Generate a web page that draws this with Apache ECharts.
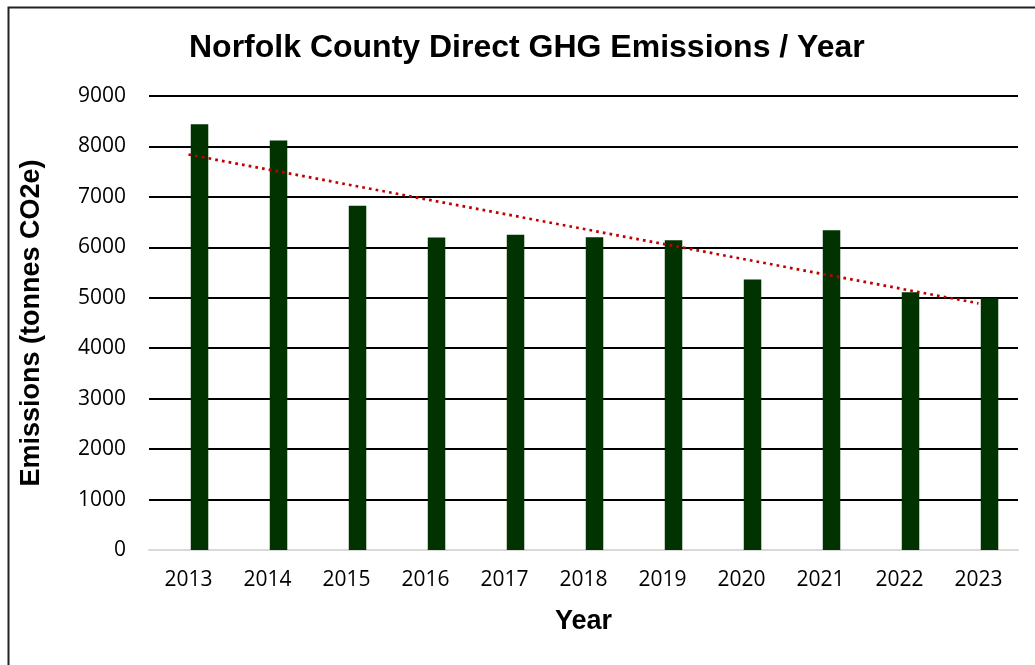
<!DOCTYPE html>
<html>
<head>
<meta charset="utf-8">
<script src="https://cdn.jsdelivr.net/npm/echarts@6/dist/echarts.min.js"></script>
<style>
html,body{margin:0;padding:0;background:#fff;}
#chart{width:1035px;height:665px;}
</style>
</head>
<body>
<div id="chart"></div>
<script>
const years = ['2013','2014','2015','2016','2017','2018','2019','2020','2021','2022','2023'];
const emissions = [8440, 8120, 6825, 6195, 6250, 6200, 6140, 5360, 6340, 5110, 4990];
const trendValues = [7840, null, null, null, null, null, null, null, null, null, 4890];
const yTicks = {min: 0, max: 9000, interval: 1000};

const chart = echarts.init(document.getElementById('chart'));
chart.setOption({
  backgroundColor: '#fff',
  animation: false,
  title: {
    text: 'Norfolk County Direct GHG Emissions / Year',
    left: 189,
    top: 32,
    padding: 0,
    textStyle: {fontFamily: 'Liberation Sans', fontWeight: 'bold', fontSize: 32, color: '#000'}
  },
  graphic: [{
    type: 'rect', left: 6, top: 5, z: 100, silent: true,
    shape: {width: 1100, height: 700},
    style: {fill: 'none', stroke: '#222', lineWidth: 2}
  }],
  grid: {left: 149, right: 17, top: 96, bottom: 115},
  xAxis: {
    type: 'category',
    data: years,
    name: 'Year',
    nameLocation: 'middle',
    nameGap: 58,
    nameTextStyle: {fontFamily: 'Liberation Sans', fontWeight: 'bold', fontSize: 27, color: '#000'},
    axisLine: {lineStyle: {color: '#d9d9d9', width: 2}},
    axisTick: {show: false},
    axisLabel: {fontFamily: 'Open Sans', fontSize: 21, color: '#000', margin: 20}
  },
  yAxis: {
    type: 'value',
    min: yTicks.min, max: yTicks.max, interval: yTicks.interval,
    name: 'Emissions (tonnes CO2e)',
    nameLocation: 'middle',
    nameGap: 104,
    nameTextStyle: {fontFamily: 'Liberation Sans', fontWeight: 'bold', fontSize: 27, color: '#000'},
    axisLine: {show: false},
    axisTick: {show: false},
    axisLabel: {fontFamily: 'Open Sans', fontSize: 21, color: '#000', margin: 23, formatter: v => String(v)},
    splitLine: {lineStyle: {color: '#000', width: 2}}
  },
  series: [
    {type: 'bar', data: years.map(() => '-'), barWidth: 17.5, barGap: '26%', silent: true},
    {type: 'bar', data: emissions, barWidth: 17.5, itemStyle: {color: '#003300'}, z: 3},
    {type: 'line', data: trendValues, connectNulls: true, symbol: 'none', z: 4,
     lineStyle: {color: '#c00000', width: 2.7, type: [2.7, 4.1]}}
  ]
});
</script>
</body>
</html>
